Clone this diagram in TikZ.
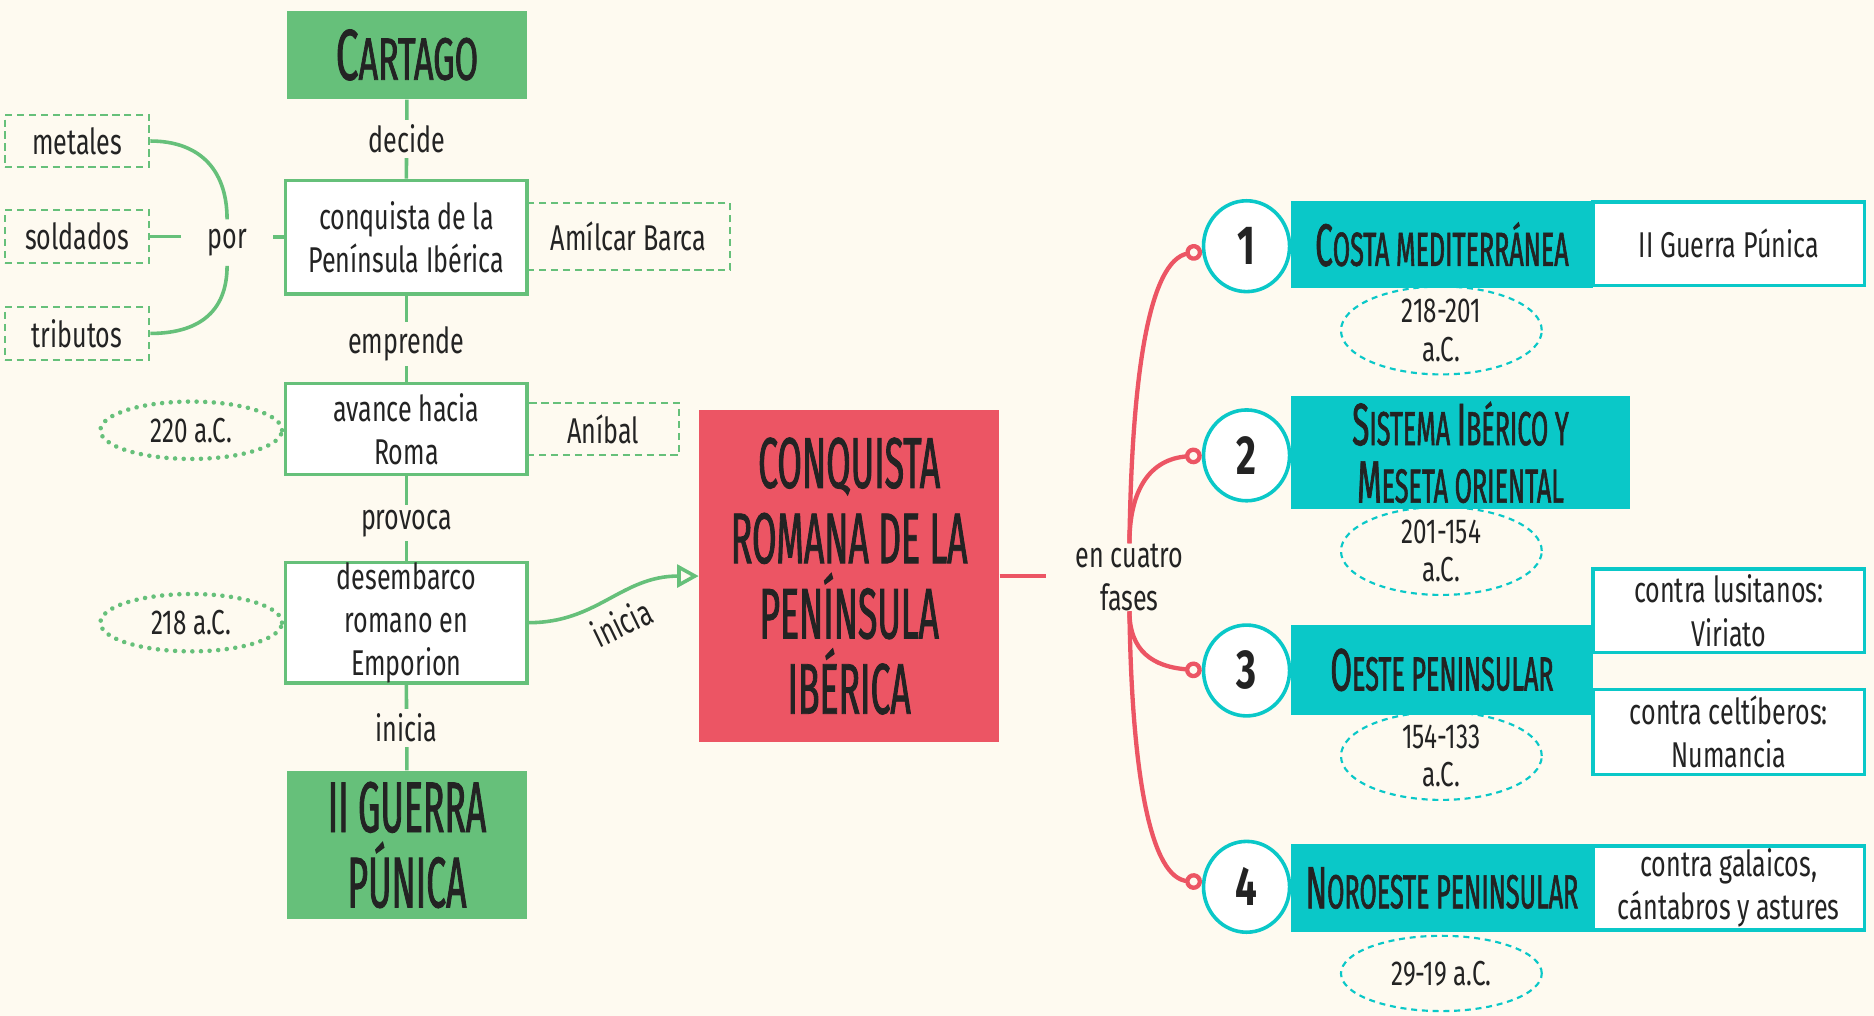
\documentclass[tikz,border=0pt]{standalone}
\usepackage{fontspec}
\setmainfont{Fira Sans}[FakeStretch=0.7]
\newfontfamily\titlef{Fira Sans}[FakeStretch=0.495, FakeBold=1.2]
\newfontfamily\cartf{Fira Sans}[FakeStretch=0.57, FakeBold=1.2]
\newfontfamily\tealf{Fira Sans}[FakeStretch=0.525, FakeBold=1.2]
\newfontfamily\numf{Fira Sans}[FakeStretch=0.7]
\usetikzlibrary{arrows.meta,shapes.geometric}
\definecolor{bg}{RGB}{254,250,240}
\definecolor{gr}{RGB}{102,192,122}
\definecolor{rd}{RGB}{236,85,100}
\definecolor{tl}{RGB}{10,200,200}
\definecolor{ink}{RGB}{35,35,35}
\newcommand\tA{\fontsize{25}{24}\selectfont}
\newcommand\tB{\fontsize{20}{24}\selectfont}
\begin{document}
\begin{tikzpicture}[x=0.5pt,y=-0.5pt,
  every node/.style={text=ink, align=center, inner sep=0pt},
  body/.style={font=\fontsize{15}{18}\selectfont},
  small/.style={font=\fontsize{14.5}{16}\selectfont},
  gbox/.style={body, draw=gr, line width=1.5pt, fill=white, minimum width=101pt},
  gfill/.style={fill=gr, minimum width=100.5pt, font=\titlef\fontsize{30}{31.5}\selectfont},
  gdash/.style={body, draw=gr, line width=0.8pt, dash pattern=on 3pt off 2pt},
  gdot/.style={small, ellipse, draw=gr, line width=1.9pt, dash pattern=on 0.01pt off 3.6pt, line cap=round, minimum width=76pt, minimum height=24pt},
  lbl/.style={body, fill=bg, inner sep=2pt},
  gline/.style={draw=gr, line width=1.5pt},
  rline/.style={draw=rd, line width=1.8pt},
  tfill/.style={fill=tl, font=\tealf\fontsize{20}{24}\selectfont, minimum width=126.5pt},
  tbox/.style={body, draw=tl, line width=1.5pt, fill=white, minimum width=113.5pt, minimum height=35pt},
  tdash/.style={small, ellipse, draw=tl, line width=0.9pt, dash pattern=on 2.5pt off 2pt, minimum width=84pt, minimum height=31.5pt},
  numc/.style={ellipse, draw=tl, line width=1.5pt, fill=white, minimum width=36pt, minimum height=38pt, font=\numf\bfseries\fontsize{23}{23}\selectfont},
  mk/.style={-{Circle[open,length=7pt]}}
]
\fill[bg] (0,0) rectangle (1568,850);
\useasboundingbox (0,0) rectangle (1568,850);

% ---- left column ----
\node[gdash, minimum width=85pt, minimum height=28pt] (amil) at (526,198) {Amílcar Barca};
\node[gdash, minimum width=63.5pt, minimum height=22pt] (anib) at (504.5,359) {Aníbal};
\node[gdash, minimum width=60.5pt, minimum height=22pt] (meta) at (64.5,118) {metales};
\node[gdash, minimum width=60.5pt, minimum height=22pt] (sold) at (64.5,198) {soldados};
\node[gdash, minimum width=60.5pt, minimum height=22pt] (trib) at (64.5,279) {tributos};
\node[gdot] (d220) at (160,360) {220 a.C.};
\node[gdot] (d218) at (160,521) {218 a.C.};

\node[gfill, minimum height=37pt] (cart) at (340.5,46) {\cartf{\fontsize{30}{30}\selectfont C}{\fontsize{25}{30}\selectfont ARTAGO}};
\node[gbox, minimum height=47.5pt] (conq) at (340,198.5) {conquista de la\\Península Ibérica};
\node[gbox, minimum height=38pt] (avan) at (340,359) {avance hacia\\Roma};
\node[gbox, minimum height=48pt] (dese) at (340,521) {desembarco\\romano en\\Emporion};
\node[gfill, minimum height=62pt] (guer) at (340.5,707) {II GUERRA\\PÚNICA};
\node[body, minimum width=38pt, minimum height=19pt] (por) at (190,203) {por};

\path[gline] (cart.south) -- node[lbl] {decide} (conq.north);
\path[gline] (conq.south) -- node[lbl, yshift=-2pt] {emprende} (avan.north);
\path[gline] (avan.south) -- node[lbl, yshift=-2pt] {provoca} (dese.north);
\path[gline] (dese.south) -- node[lbl] {inicia} (guer.north);
\path[gline] (conq.west) -- (por.east |- conq.west);
\path[gline] (por.west |- sold.east) -- (sold.east);
\path[gline] (por.north) .. controls (190,140) and (165,118) .. (meta.east);
\path[gline] (por.south) .. controls (190,262) and (165,279) .. (trib.east);

% ---- centre ----
\node[fill=rd, minimum width=125.5pt, minimum height=139pt,
      font=\titlef\fontsize{30}{31.5}\selectfont] (red) at (710.5,482)
      {CONQUISTA\\ROMANA DE LA\\PENÍNSULA\\IBÉRICA};
\path[gline, -{Triangle[open,length=9pt,width=9.5pt]}] (dese.east) .. controls (500,521) and (520,482) .. (red.west)
   node[midway, sloped, below=4pt, body] {inicia};

\node[body] (fases) at (945,483) {en cuatro\\fases};
\coordinate (rj) at (875,482);
\path[rline] (red.east) -- (rj);

% ---- right side ----
\node[numc] (c1) at (1043,206) {1};
\node[numc] (c2) at (1043,381) {2};
\node[numc] (c3) at (1043,561) {3};
\node[numc] (c4) at (1043,742) {4};

\path[rline, mk] (fases.north) .. controls (947,310) and (962,218) .. (c1.186);
\path[rline, mk] (fases.north) .. controls (945,410) and (962,384) .. (c2.west);
\path[rline, mk] (fases.south) .. controls (945,545) and (965,558) .. (c3.west);
\path[rline, mk] (fases.south) .. controls (947,650) and (963,735) .. (c4.174);

\node[tfill, minimum height=36.5pt] (f1) at (1206.5,204.5) {{\tA C}{\tB OSTA MEDITERRÁNEA}};
\node[tbox] (g1) at (1446.5,204) {II Guerra Púnica};
\node[tdash] (e1) at (1206,276.5) {218-201\\a.C.};

\node[tfill, minimum width=142pt, minimum height=47.5pt] (f2) at (1222,378.5) {{\tA S}{\tB ISTEMA }{\tA I}{\tB BÉRICO Y}\\{\tA M}{\tB ESETA ORIENTAL}};
\node[tdash] (e2) at (1206,461) {201-154\\a.C.};

\node[tfill, minimum height=37.5pt] (f3) at (1206.5,560.5) {{\tA O}{\tB ESTE PENINSULAR}};
\node[tbox] (g3a) at (1446.5,511) {contra lusitanos:\\Viriato};
\node[tbox, minimum height=35.5pt] (g3b) at (1446.5,612.5) {contra celtíberos:\\Numancia};
\node[tdash] (e3) at (1206,632.5) {154-133\\a.C.};

\node[tfill, minimum height=37pt] (f4) at (1206.5,743) {{\tA N}{\tB OROESTE PENINSULAR}};
\node[tbox] (g4) at (1446.5,743) {contra galaicos,\\cántabros y astures};
\node[tdash] (e4) at (1206,814.5) {29-19 a.C.};
\end{tikzpicture}
\end{document}
